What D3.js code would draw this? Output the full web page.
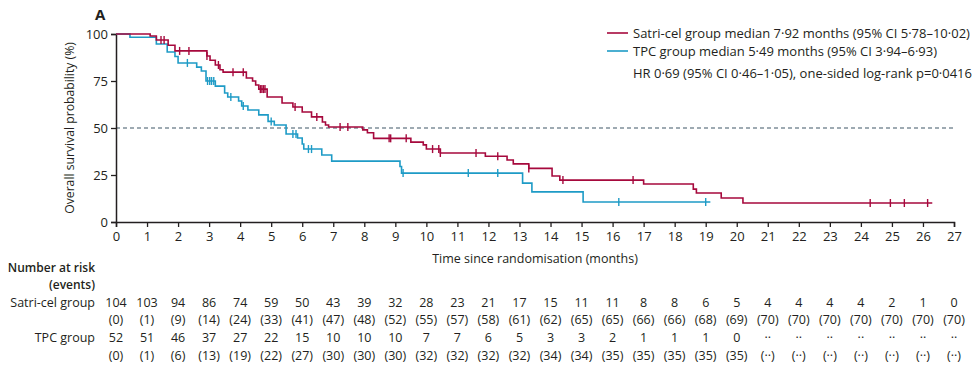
<!DOCTYPE html>
<html><head><meta charset="utf-8">
<script src="https://cdn.jsdelivr.net/npm/d3@7"></script>
<style>body{margin:0;background:#fff}svg{display:block}text{font-family:"Open Sans",sans-serif;fill:#231f20}</style>
</head><body>
<svg id="c" width="975" height="381"></svg>
<script>
// ---- data ----
const months = d3.range(0, 28);
const yTicks = [0, 25, 50, 75, 100];
const satriTimes = [0,1.1,1.3,1.68,1.9,2.93,3.03,3.2,3.35,3.45,4.2,4.4,4.5,4.6,4.87,5.35,5.7,6.0,6.3,6.65,6.75,6.85,7.95,8.1,8.3,9.5,9.9,10.0,10.45,11.9,12.6,12.8,13.3,14.05,14.3,17.0,18.6,18.7,19.5,20.2];
const satriSurv  = [100,98.9,96.8,94,91,88.3,86,83.5,81,79.7,76.6,75,72.9,70.7,66.5,63.3,61.2,58.5,55.9,53.2,51.6,50.5,49,47.5,44.5,42.5,41,38.8,36.7,35,33,30.9,28.5,24.5,22.3,20.2,17.5,15.4,12.8,10.1];
const satriEnd = 26.3;
const satriCensor = [1.45,1.55,2.05,2.35,2.93,3.3,3.77,4.1,4.65,4.7,4.75,4.8,5.77,6.47,7.22,7.47,8.8,8.85,9.35,10.2,10.4,10.45,11.6,12.3,13.3,14.4,16.66,24.3,24.95,25.4,26.15];
const tpcTimes = [0,0.45,1.3,1.65,1.9,2.0,2.6,2.75,2.9,3.2,3.5,3.6,3.95,4.05,4.25,4.6,4.9,5.1,5.48,5.85,6.0,6.05,6.63,6.95,9.15,9.2,13.1,13.4,15.05];
const tpcSurv  = [100,98.3,94.7,90.4,88,84.6,82.4,80.3,75,72.3,68.6,66.5,64.4,61.7,59.6,57,53.5,51.6,46.8,44.7,41.5,38.8,35.6,32.4,29.5,26,20.7,16,10.6];
const tpcEnd = 19.15;
const tpcCensor = [2.3,2.95,3.02,3.08,3.15,3.7,4.1,5.0,5.7,5.8,6.2,6.3,9.25,11.35,12.3,16.2,19.0];
const satriRisk = ["104","103","94","86","74","59","50","43","39","32","28","23","21","17","15","11","11","8","8","6","5","4","4","4","4","2","1","0"];
const satriEvents = ["(0)","(1)","(9)","(14)","(24)","(33)","(41)","(47)","(48)","(52)","(55)","(57)","(58)","(61)","(62)","(65)","(65)","(66)","(66)","(68)","(69)","(70)","(70)","(70)","(70)","(70)","(70)","(70)"];
const tpcRisk = ["52","51","46","37","27","22","15","10","10","10","7","7","6","5","3","3","2","1","1","1","0","··","··","··","··","··","··","··"];
const tpcEvents = ["(0)","(1)","(6)","(13)","(19)","(22)","(27)","(30)","(30)","(30)","(32)","(32)","(32)","(32)","(34)","(34)","(35)","(35)","(35)","(35)","(35)","(··)","(··)","(··)","(··)","(··)","(··)","(··)"];
const legendLabels = ["Satri-cel group median 7·92 months (95% CI 5·78–10·02)","TPC group median 5·49 months (95% CI 3·94–6·93)"];
const hrText = "HR 0·69 (95% CI 0·46–1·05), one-sided log-rank p=0·0416";

const RED = "#a6093d", BLUE = "#1e9bc6", AX = "#231f20";
const svg = d3.select("#c");
const x = d3.scaleLinear().domain([0, 27]).range([116, 954]);
const y = d3.scaleLinear().domain([0, 100]).range([222, 34]);

// dashed median line
svg.append("line").attr("x1", x(0)).attr("x2", x(27)).attr("y1", y(50)).attr("y2", y(50))
  .attr("stroke", "#3e5666").attr("stroke-width", 1.2).attr("stroke-dasharray", "4,3");

// axes
const xAxis = svg.append("g").attr("transform", `translate(0,${y(0)})`)
  .call(d3.axisBottom(x).tickValues(months).tickSize(5).tickPadding(5).tickFormat(d3.format("d")));
const yAxis = svg.append("g").attr("transform", `translate(${x(0)},0)`)
  .call(d3.axisLeft(y).tickValues(yTicks).tickSize(5).tickPadding(3));
[xAxis, yAxis].forEach(g => {
  g.select(".domain").attr("stroke", AX).attr("stroke-width", 1.5);
  g.selectAll(".tick line").attr("stroke", AX).attr("stroke-width", 1.3);
  g.selectAll(".tick text").attr("font-family", "Open Sans").attr("font-size", 13).attr("fill", AX);
});

// KM curves
function drawKM(times, surv, end, censor, color) {
  const pts = times.map((t, i) => [t, surv[i]]);
  pts.push([end, surv[surv.length - 1]]);
  const line = d3.line().x(d => x(d[0])).y(d => y(d[1])).curve(d3.curveStepAfter);
  svg.append("path").attr("d", line(pts)).attr("fill", "none").attr("stroke", color).attr("stroke-width", 1.6);
  const survAt = t => { let s = 100; for (let i = 0; i < times.length; i++) if (times[i] <= t) s = surv[i]; return s; };
  svg.append("g").selectAll("line").data(censor).join("line")
    .attr("x1", d => x(d)).attr("x2", d => x(d))
    .attr("y1", d => y(survAt(d)) - 4).attr("y2", d => y(survAt(d)) + 4)
    .attr("stroke", color).attr("stroke-width", 1.4);
}
drawKM(tpcTimes, tpcSurv, tpcEnd, tpcCensor, BLUE);
drawKM(satriTimes, satriSurv, satriEnd, satriCensor, RED);

// legend
const lg = svg.append("g");
[[RED, 33], [BLUE, 51]].forEach(([c, yy], i) => {
  lg.append("line").attr("x1", 607).attr("x2", 628).attr("y1", yy).attr("y2", yy).attr("stroke", c).attr("stroke-width", 1.6);
  lg.append("text").attr("x", 633).attr("y", yy + 4.5).attr("font-size", 13).text(legendLabels[i]);
});
lg.append("text").attr("x", 633).attr("y", 77.5).attr("font-size", 13).text(hrText);

// titles
svg.append("text").attr("x", 95).attr("y", 20).attr("font-size", 15).attr("font-weight", "bold").text("A");
svg.append("text").attr("transform", "translate(74,128) rotate(-90)").attr("text-anchor", "middle")
  .attr("font-size", 12.2).text("Overall survival probability (%)");
svg.append("text").attr("x", 535).attr("y", 263).attr("text-anchor", "middle").attr("font-size", 12.5)
  .text("Time since randomisation (months)");

// risk table
const lab = svg.append("g").attr("text-anchor", "end").attr("font-size", 12.5);
lab.append("text").attr("x", 95).attr("y", 272).attr("font-weight", 600).attr("font-size", 12).text("Number at risk");
lab.append("text").attr("x", 95).attr("y", 289).attr("font-weight", 600).attr("font-size", 12).text("(events)");
lab.append("text").attr("x", 95).attr("y", 307).text("Satri-cel group");
lab.append("text").attr("x", 95).attr("y", 342).text("TPC group");
const rows = [[satriRisk, 307], [satriEvents, 324], [tpcRisk, 342], [tpcEvents, 360]];
rows.forEach(([arr, yy]) => {
  svg.append("g").selectAll("text").data(arr).join("text")
    .attr("x", (d, i) => x(months[i])).attr("y", yy).attr("text-anchor", "middle")
    .attr("font-size", 12.5).text(d => d);
});
</script>
</body></html>
